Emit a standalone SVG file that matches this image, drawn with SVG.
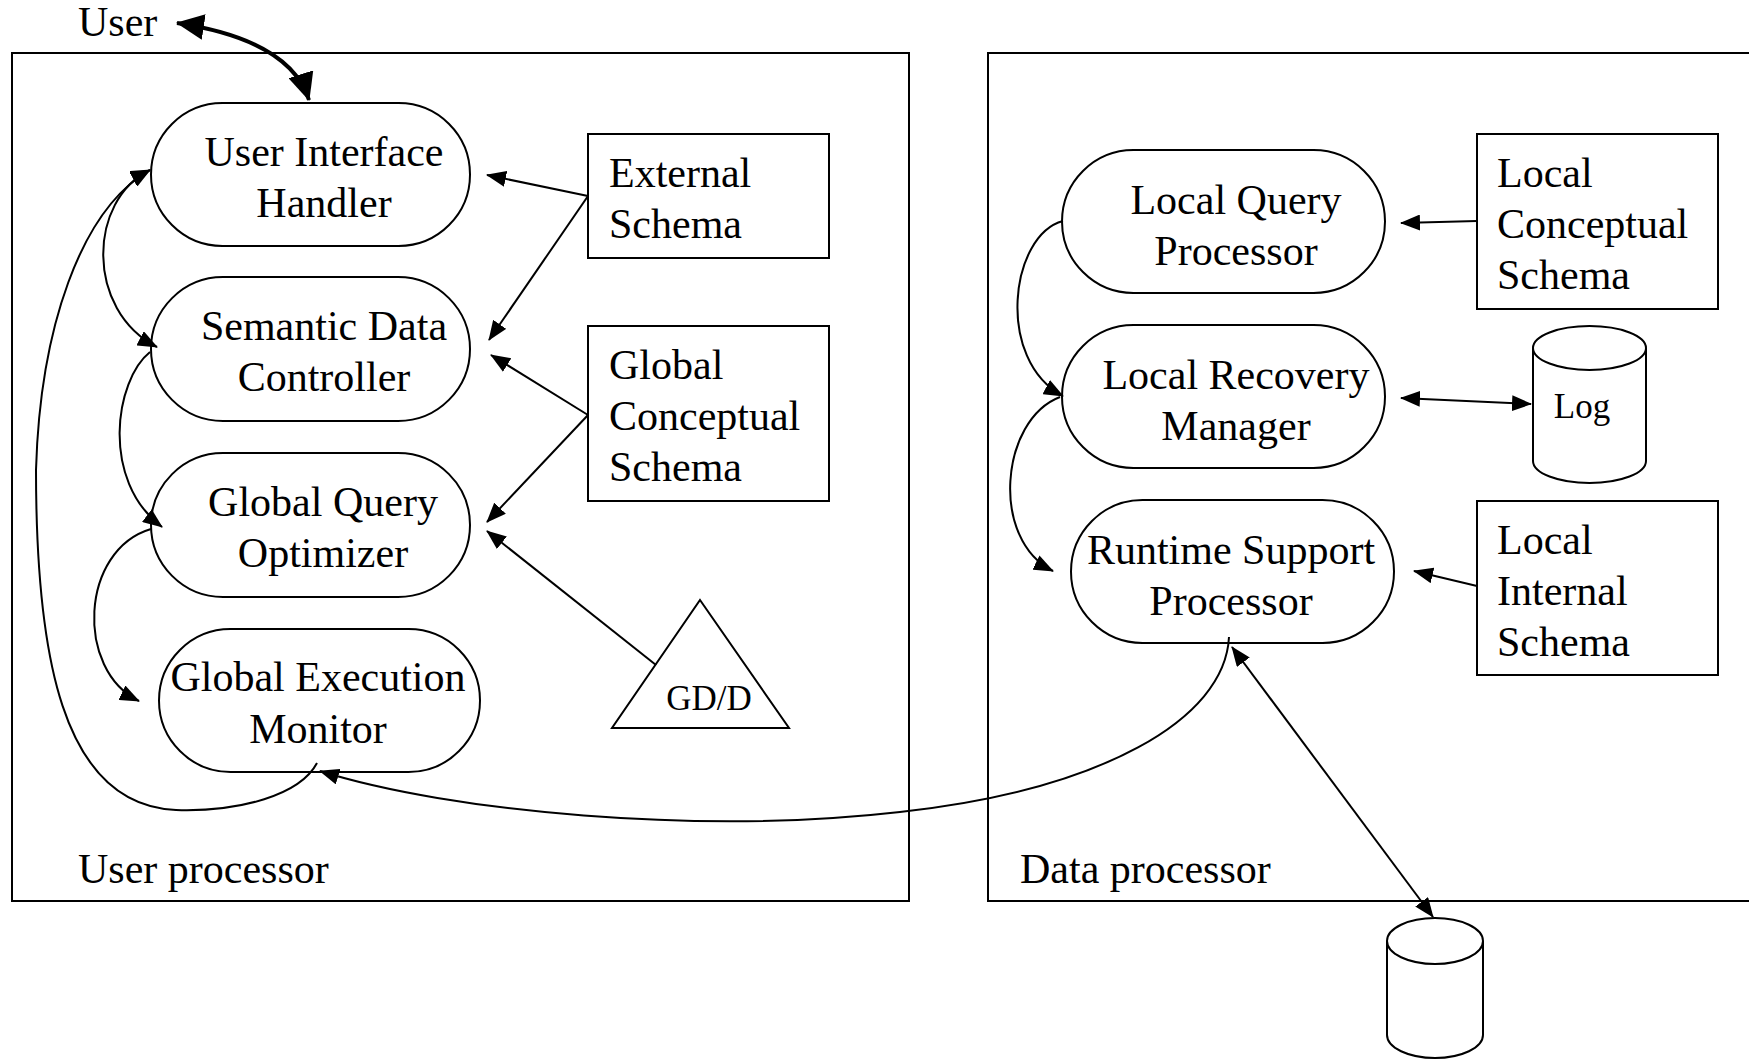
<svg xmlns="http://www.w3.org/2000/svg" width="1749" height="1060" viewBox="0 0 1749 1060">
<style>
text{font-family:"Liberation Serif","Times New Roman",serif;font-size:42px;fill:#000}
.c{text-anchor:middle}
.sm{font-size:35px}
.box{fill:none;stroke:#000;stroke-width:2}
.nd{fill:#fff;stroke:#000;stroke-width:2}
.ln{fill:none;stroke:#000;stroke-width:2}
.hv{fill:none;stroke:#000;stroke-width:4}
</style>
<defs>
<marker id="ah" markerWidth="20" markerHeight="16" refX="19" refY="8" orient="auto-start-reverse" markerUnits="userSpaceOnUse"><path d="M0,0 L20,8 L0,16 z" fill="#000"/></marker>
<marker id="ahL" markerWidth="28" markerHeight="26" refX="27" refY="13" orient="auto-start-reverse" markerUnits="userSpaceOnUse"><path d="M0,0 L28,13 L0,26 z" fill="#000"/></marker>
</defs>

<g id="user-label"><text x="78" y="36">User</text></g>

<g id="user-processor">
<rect class="box" x="12" y="53" width="897" height="848"/>
<text x="78" y="883">User processor</text>
</g>
<g id="data-processor">
<rect class="box" x="988" y="53" width="800" height="848"/>
<text x="1020" y="883">Data processor</text>
</g>

<g id="uih"><rect class="nd" x="151" y="103" width="319" height="143" rx="71.5"/>
<text class="c" x="324" y="166">User Interface</text><text class="c" x="324" y="217">Handler</text></g>
<g id="sdc"><rect class="nd" x="151" y="277" width="319" height="144" rx="72"/>
<text class="c" x="324" y="340">Semantic Data</text><text class="c" x="324" y="391">Controller</text></g>
<g id="gqo"><rect class="nd" x="151" y="453" width="319" height="144" rx="72"/>
<text class="c" x="323" y="516">Global Query</text><text class="c" x="323" y="567">Optimizer</text></g>
<g id="gem"><rect class="nd" x="159" y="629" width="321" height="143" rx="71.5"/>
<text class="c" x="318" y="691">Global Execution</text><text class="c" x="318" y="743">Monitor</text></g>

<g id="external-schema"><rect class="nd" x="588" y="134" width="241" height="124"/>
<text x="609" y="187">External</text><text x="609" y="238">Schema</text></g>
<g id="global-conceptual-schema"><rect class="nd" x="588" y="326" width="241" height="175"/>
<text x="609" y="379">Global</text><text x="609" y="430">Conceptual</text><text x="609" y="481">Schema</text></g>
<g id="gdd"><path class="nd" d="M700,600 L789,728 L612,728 Z"/>
<text class="c sm" x="709" y="710">GD/D</text></g>

<g id="lqp"><rect class="nd" x="1062" y="150" width="323" height="143" rx="71.5"/>
<text class="c" x="1236" y="214">Local Query</text><text class="c" x="1236" y="265">Processor</text></g>
<g id="lrm"><rect class="nd" x="1062" y="325" width="323" height="143" rx="71.5"/>
<text class="c" x="1236" y="389">Local Recovery</text><text class="c" x="1236" y="440">Manager</text></g>
<g id="rsp"><rect class="nd" x="1071" y="500" width="323" height="143" rx="71.5"/>
<text class="c" x="1231" y="564">Runtime Support</text><text class="c" x="1231" y="615">Processor</text></g>

<g id="local-conceptual-schema"><rect class="nd" x="1477" y="134" width="241" height="175"/>
<text x="1497" y="187">Local</text><text x="1497" y="238">Conceptual</text><text x="1497" y="289">Schema</text></g>
<g id="local-internal-schema"><rect class="nd" x="1477" y="501" width="241" height="174"/>
<text x="1497" y="554">Local</text><text x="1497" y="605">Internal</text><text x="1497" y="656">Schema</text></g>
<g id="log"><path class="nd" d="M1533,348 L1533,461 A56.5,22 0 0 0 1646,461 L1646,348"/>
<ellipse class="nd" cx="1589.5" cy="348" rx="56.5" ry="22"/>
<text class="c sm" x="1582" y="418">Log</text></g>
<g id="database"><path class="nd" d="M1387,941 L1387,1035 A48,23 0 0 0 1483,1035 L1483,941"/>
<ellipse class="nd" cx="1435" cy="941" rx="48" ry="23"/></g>

<g id="connectors">
<path class="hv" d="M177,23 Q290,40 309,100" marker-start="url(#ahL)" marker-end="url(#ahL)"/>
<path class="ln" d="M588,196 L487,175" marker-end="url(#ah)"/>
<path class="ln" d="M588,196 L489,340" marker-end="url(#ah)"/>
<path class="ln" d="M588,415 L491,355" marker-end="url(#ah)"/>
<path class="ln" d="M588,415 L487,522" marker-end="url(#ah)"/>
<path class="ln" d="M656,665 L487,531" marker-end="url(#ah)"/>
<path class="ln" d="M150,170 C88,200 85,310 157,347" marker-start="url(#ah)" marker-end="url(#ah)"/>
<path class="ln" d="M150,352 C115,380 100,480 162,527" marker-end="url(#ah)"/>
<path class="ln" d="M151,529 C80,550 75,670 139,701" marker-end="url(#ah)"/>
<path class="ln" d="M317,763 C300,795 240,812 176,810 C60,805 36,650 36,470 C40,330 80,210 150,170" marker-end="url(#ah)"/>
<path class="ln" d="M1229,637 C1225,720 1100,790 900,812 C700,835 450,812 320,771" marker-end="url(#ah)"/>
<path class="ln" d="M1232,647 L1433,917" marker-start="url(#ah)" marker-end="url(#ah)"/>
<path class="ln" d="M1477,221 L1401,223" marker-end="url(#ah)"/>
<path class="ln" d="M1401,398 L1531,404" marker-start="url(#ah)" marker-end="url(#ah)"/>
<path class="ln" d="M1477,586 L1414,571" marker-end="url(#ah)"/>
<path class="ln" d="M1063,221 C1010,235 995,360 1063,396" marker-end="url(#ah)"/>
<path class="ln" d="M1060,397 C1000,420 990,540 1053,571" marker-end="url(#ah)"/>
</g>
</svg>
